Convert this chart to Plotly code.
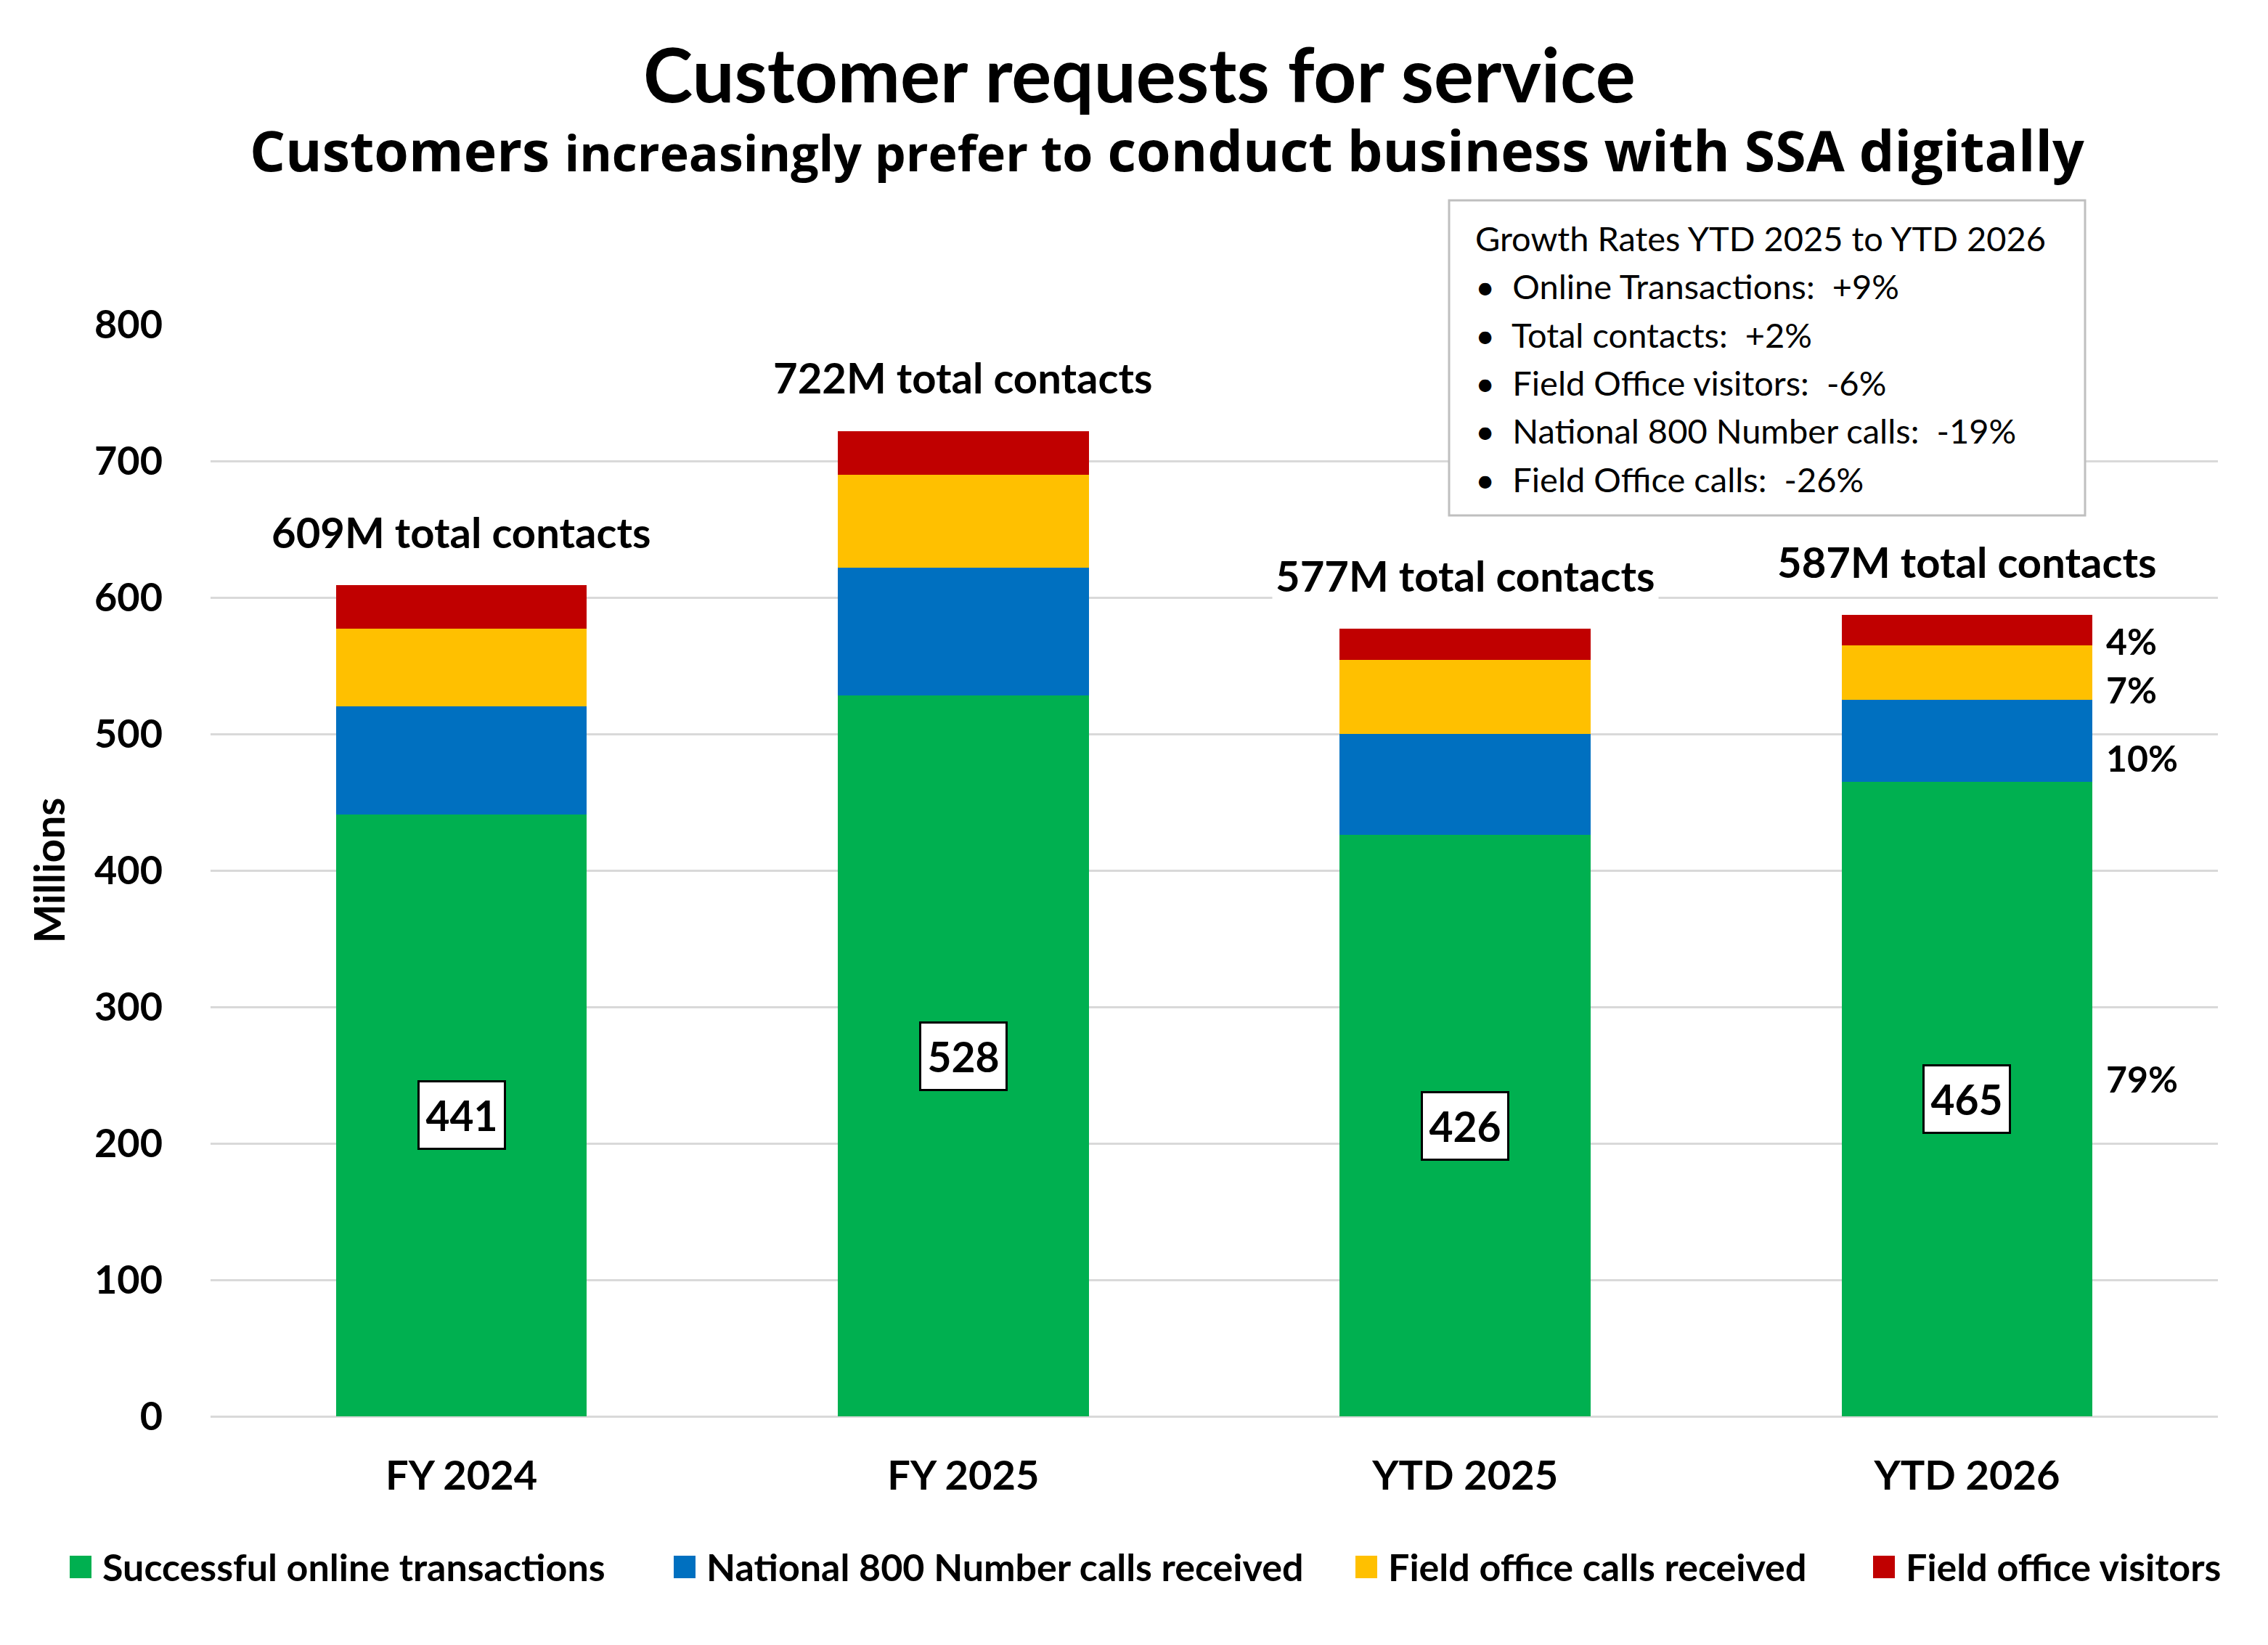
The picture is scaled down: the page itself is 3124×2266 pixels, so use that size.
import plotly.graph_objects as go

# ---------------- data ----------------
categories = ["FY 2024", "FY 2025", "YTD 2025", "YTD 2026"]
online = [441, 528, 426, 465]
national800 = [79, 94, 74, 60]
fo_calls = [57, 68, 54, 40]
fo_visitors = [32, 32, 23, 22]
series_names = ["Successful online transactions", "National 800 Number calls received",
                "Field office calls received", "Field office visitors"]
series_colors = ["#00B050", "#0070C0", "#FFC000", "#C00000"]
y_ticks = [0, 100, 200, 300, 400, 500, 600, 700, 800]
growth_title = "Growth Rates YTD 2025 to YTD 2026"
growth_lines = ["Online Transactions:  +9%", "Total contacts:  +2%", "Field Office visitors:  -6%",
                "National 800 Number calls:  -19%", "Field Office calls:  -26%"]

series = [online, national800, fo_calls, fo_visitors]
totals = [sum(v) for v in zip(*series)]

# ---------------- layout geometry (reference pixels) ----------------
W, H = 3124, 2266
OFF = 8  # page body margin
FW, FH = W - 2 * OFF, H - 2 * OFF
PL, PR, PT, PB = 290, 3055, 447, 1951
FONT = "Lato"
SUBFONT = "Open Sans"
BAR_W = 0.5


def xp(px):
    return (px - PL) / (PR - PL)


def yp(py):
    return (PB - py) / (PB - PT)


fig = go.Figure()
for name, vals, col in zip(series_names, series, series_colors):
    fig.add_trace(go.Bar(x=categories, y=vals, name=name, marker=dict(color=col, line=dict(width=0)),
                         width=BAR_W, hoverinfo="skip", showlegend=False))

ann = []
shapes = []
# boxed value labels in the green segments
for c, v in zip(categories, online):
    ann.append(dict(x=c, y=v / 2, xref="x", yref="y", text=f"<b>{v}</b>", showarrow=False,
                    font=dict(family=FONT, size=57, color="black"), bgcolor="white",
                    bordercolor="black", borderwidth=3, borderpad=0, width=116, height=90))
# total labels
for c, t in zip(categories, totals):
    ann.append(dict(x=c, y=t, xref="x", yref="y", text=f"<b>{t}M total contacts</b>", showarrow=False,
                    yanchor="middle", yshift=74, font=dict(family=FONT, size=58, color="black"),
                    bgcolor="white", borderpad=4))
# percentage labels next to last bar
last = len(categories) - 1
shifts = [28, -24, -24, -15]
base = 0
for vals, sh in zip(series, shifts):
    v = vals[last]
    pct = round(v / totals[last] * 100)
    ann.append(dict(x=last + BAR_W / 2 + 0.024, y=base + v / 2, xref="x", yref="y", text=f"<b>{pct}%</b>",
                    showarrow=False, xanchor="left", yanchor="middle", yshift=sh,
                    font=dict(family=FONT, size=50, color="black")))
    base += v

# title and subtitle
ann.append(dict(x=xp(1569), y=yp(101), xref="paper", yref="paper", showarrow=False,
                text="<b>Customer requests for service</b>", xanchor="center", yanchor="middle",
                font=dict(family=FONT, size=103, color="black")))
ann.append(dict(x=xp(1607), y=yp(206), xref="paper", yref="paper", showarrow=False,
                text="<b>Customers <span style='font-size:68px'>increasingly prefer to</span> conduct business with SSA digitally</b>",
                xanchor="center", yanchor="middle",
                font=dict(family=SUBFONT, size=77, color="black")))

# growth rates box
shapes.append(dict(type="rect", xref="paper", yref="paper", x0=xp(1996), x1=xp(2872), y0=yp(710), y1=yp(276),
                   line=dict(color="#BFBFBF", width=3), fillcolor="white", layer="above"))
lines = [growth_title] + ["\u2022&nbsp;&nbsp;" + s for s in growth_lines]
box_text = "<br>".join(f"<span style='font-size:47px'>{s}</span>" for s in lines)
ann.append(dict(x=xp(2030), y=yp(494), xref="paper", yref="paper", showarrow=False, xanchor="left",
                yanchor="middle", align="left", text=box_text,
                font=dict(family=FONT, size=51, color="black")))

# legend (squares + labels)
leg_sq_x = [96, 928, 1867, 2580]
for name, col, sx in zip(series_names, series_colors, leg_sq_x):
    shapes.append(dict(type="rect", xref="paper", yref="paper", x0=xp(sx), x1=xp(sx + 30),
                       y0=yp(2174), y1=yp(2143), line=dict(width=0), fillcolor=col))
    ann.append(dict(x=xp(sx + 43), y=yp(2158), xref="paper", yref="paper", showarrow=False,
                    xanchor="left", yanchor="middle", text=f"<b>{name}</b>",
                    font=dict(family=FONT, size=52, color="black")))

fig.update_layout(
    width=FW, height=FH,
    margin=dict(l=PL - OFF, r=FW - (PR - OFF), t=PT - OFF, b=FH - (PB - OFF), autoexpand=False),
    paper_bgcolor="white", plot_bgcolor="white",
    barmode="stack",
    font=dict(family=FONT, color="black"),
    showlegend=False,
    annotations=ann,
    shapes=shapes,
    xaxis=dict(tickfont=dict(family=FONT, size=56, color="black", weight=700), showgrid=False,
               showline=False, ticks="", ticklabelstandoff=44, range=[-0.5, len(categories) - 0.5]),
    yaxis=dict(range=[0, 800], tickvals=y_ticks, tickfont=dict(family=FONT, size=54, color="black", weight=700),
               gridcolor="#D9D9D9", gridwidth=3, zeroline=True, zerolinecolor="#D9D9D9", zerolinewidth=3,
               showline=False, ticks="", ticklabelstandoff=65,
               title=dict(text="<b>Millions</b>", font=dict(family=FONT, size=57, color="black"), standoff=22)),
)

fig.write_html("out.html")
